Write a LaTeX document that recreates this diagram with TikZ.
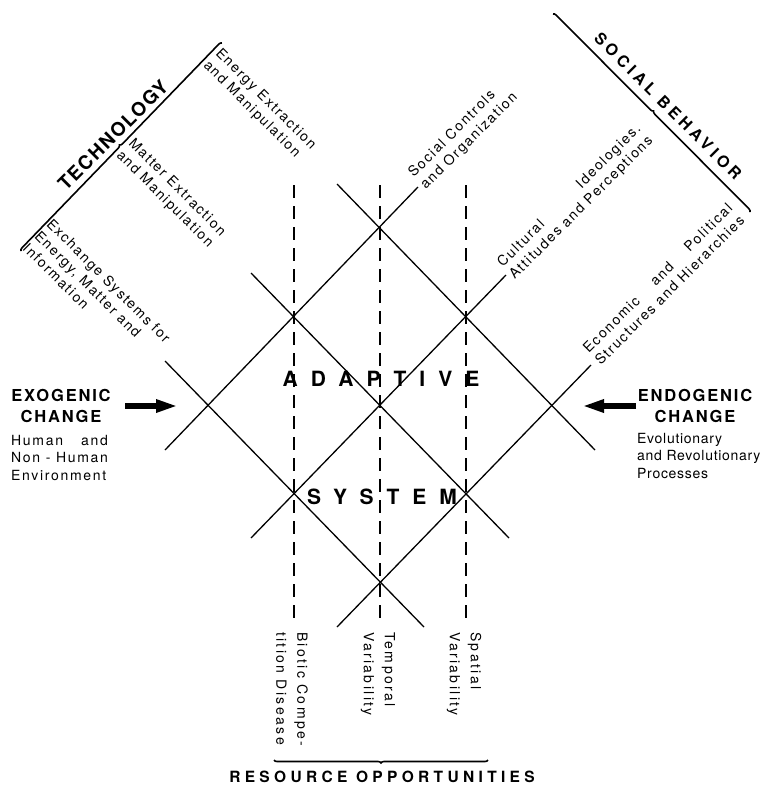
\documentclass[tikz,border=0pt]{standalone}
\usepackage{fontspec}
\setmainfont{TeX Gyre Heros}
\newfontfamily\lblfont[LetterSpace=12]{TeX Gyre Heros}
\newfontfamily\resfont[LetterSpace=17]{TeX Gyre Heros}
\usepackage{tikz}
\usetikzlibrary{arrows.meta}
\usetikzlibrary{decorations.pathreplacing}
\newcommand{\spread}[1]{\begin{tabular}{@{}l@{}}#1\end{tabular}}

\begin{document}
\begin{tikzpicture}[x=1pt,y=-1pt,
  crossline/.style={line width=1.3pt},
  resline/.style={line width=1.5pt, dash pattern=on 13pt off 8pt},
  bracket/.style={line width=1.6pt, decorate, decoration={brace, amplitude=3pt}},
  bigarrow/.style={line width=6pt, -{Triangle[length=22pt,width=12pt]}},
  techlbl/.style={rotate=-45, anchor=west, align=left, inner sep=2pt, font=\lblfont\fontsize{14}{17}\selectfont},
  soclbl/.style={rotate=45, anchor=west, inner sep=2pt, font=\lblfont\fontsize{14}{17}\selectfont},
  reslbl/.style={rotate=-90, anchor=west, align=left, inner sep=2pt, font=\resfont\fontsize{14}{21}\selectfont},
  headlbl/.style={font=\bfseries\fontsize{16.5}{21}\selectfont\addfontfeature{LetterSpace=11}, align=center, inner sep=0pt},
  wordlbl/.style={font=\bfseries\fontsize{21}{24}\selectfont\addfontfeature{LetterSpace=62}, inner sep=0pt}]
\useasboundingbox (0,0) rectangle (766,785);

% ends of the crossing lines
\coordinate (s1a) at (165,450);   \coordinate (s1b) at (418,187);
\coordinate (s2a) at (251,538);   \coordinate (s2b) at (506,275);
\coordinate (s3a) at (337,627);   \coordinate (s3b) at (591,365);
\coordinate (t1a) at (165,361);   \coordinate (t1b) at (424,627);
\coordinate (t2a) at (251,273);   \coordinate (t2b) at (509,538);
\coordinate (t3a) at (337,184);   \coordinate (t3b) at (595,450);
\coordinate (r1a) at (294,185);   \coordinate (r1b) at (294,624);
\coordinate (r2a) at (380,185);   \coordinate (r2b) at (380,624);
\coordinate (r3a) at (466,185);   \coordinate (r3b) at (466,624);

\draw [crossline] (s1a) -- (s1b);
\draw [crossline] (s2a) -- (s2b);
\draw [crossline] (s3a) -- (s3b);
\draw [crossline] (t1a) -- (t1b);
\draw [crossline] (t2a) -- (t2b);
\draw [crossline] (t3a) -- (t3b);
\draw [resline] (r1a) -- (r1b);
\draw [resline] (r2a) -- (r2b);
\draw [resline] (r3a) -- (r3b);

\node [wordlbl] (adaptive) at (381,379) {ADAPTIVE};
\node [wordlbl] (system) at (382,497) {SYSTEM};

% technology
\coordinate (techa) at (21,251);  \coordinate (techb) at (222,43);
\draw [bracket] (techa) -- (techb);
\node [rotate=45, font=\bfseries\fontsize{19}{22}\selectfont\addfontfeature{LetterSpace=8}] (technology) at (113,135) {TECHNOLOGY};
\node [techlbl] (energy) at (210,56) {Energy Extraction\\and Manipulation};
\node [techlbl] (matter) at (123,146) {Matter Extraction\\and Manipulation};
\node [techlbl] (exchange) at (36,232) {Exchange Systems for\\Energy, Matter and\\Information};

% social behavior
\coordinate (socia) at (553,14);  \coordinate (socib) at (750,212);
\draw [bracket] (socia) -- (socib);
\node [rotate=-45, font=\bfseries\fontsize{16}{20}\selectfont\addfontfeature{LetterSpace=25}] (social) at (668,106) {SOCIAL BEHAVIOR};
\node [soclbl] (controls) at (416,183) {\spread{Social Controls\\and Organization}};
\node [soclbl] (cultural) at (505,273) {\spread{Cultural\hfill Ideologies.\\Attitudes and Perceptions}};
\node [soclbl] (economic) at (591,359) {\spread{Economic\hfill and\hfill Political\\Structures and Hierarchies}};

% resource opportunities
\node [reslbl] (biotic) at (292,630) {Biotic Compe-\\tition Disease};
\node [reslbl] (temporal) at (378,630) {Temporal\\Variability};
\node [reslbl] (spatial) at (464,630) {Spatial\\Variability};
\coordinate (resa) at (488,760);  \coordinate (resb) at (274,760);
\draw [bracket] (resa) -- (resb);
\node [font=\bfseries\fontsize{15.5}{18}\selectfont\addfontfeature{LetterSpace=28}] (resource) at (382,777) {RESOURCE OPPORTUNITIES};

% exogenic / endogenic change
\node [headlbl] (exotitle) at (61,406) {EXOGENIC\\CHANGE};
\node [anchor=north west, inner sep=0pt, font=\lblfont\fontsize{14}{17.5}\selectfont] (exotext) at (11,433) {\spread{Human\hfill and\\Non - Human\\Environment}};
\coordinate (exoout) at (125,406);  \coordinate (exoin) at (178,406);
\draw [bigarrow] (exoout) -- (exoin);

\node [headlbl] (endotitle) at (695,406) {ENDOGENIC\\CHANGE};
\node [anchor=north west, align=left, inner sep=0pt, font=\fontsize{14}{17.5}\selectfont\addfontfeature{LetterSpace=5}] (endotext) at (637,433) {Evolutionary\\and Revolutionary\\Processes};
\coordinate (endoout) at (636,406);  \coordinate (endoin) at (582,406);
\draw [bigarrow] (endoout) -- (endoin);
\end{tikzpicture}
\end{document}
